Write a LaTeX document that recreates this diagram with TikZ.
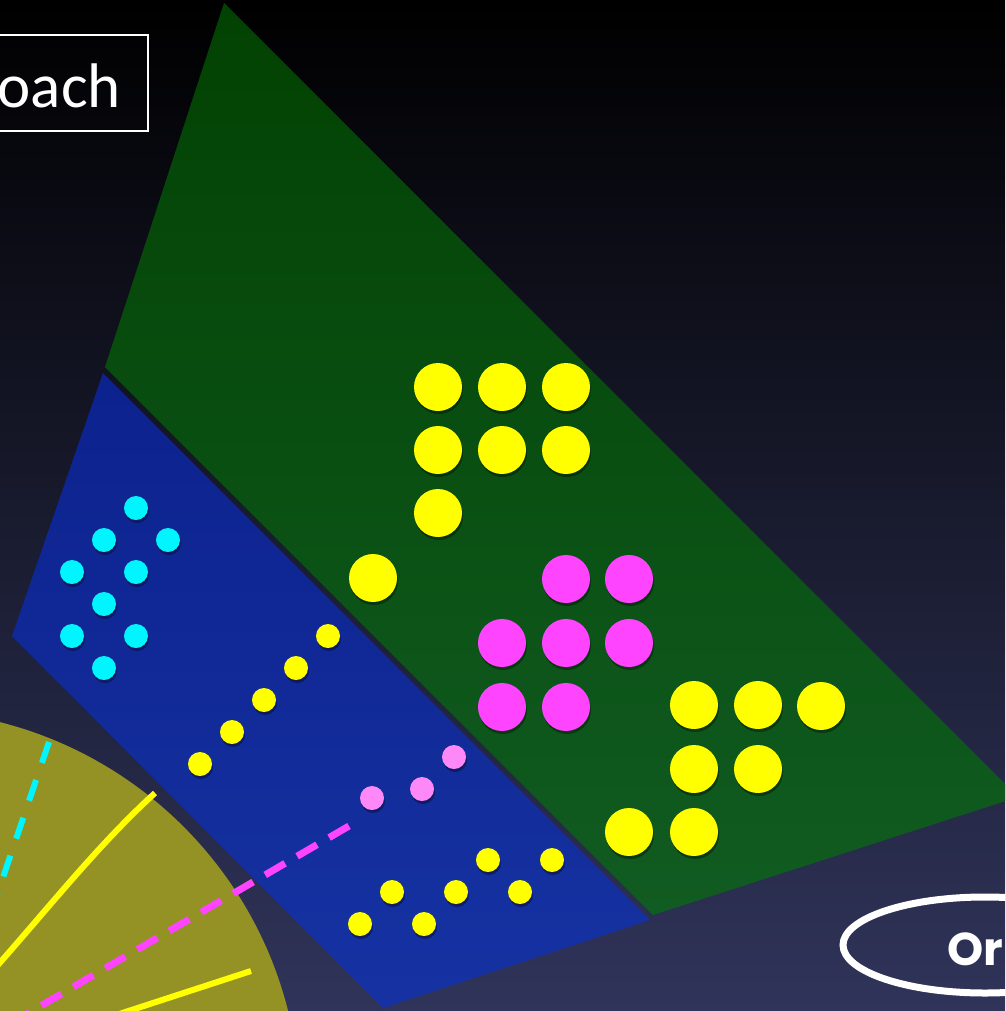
\documentclass[tikz,border=0pt]{standalone}
\usepackage{fontspec}
\newfontfamily\boxfont{Carlito}
\newfontfamily\tagfont{Poppins}
\usetikzlibrary{shadows}

\definecolor{bgtop}{RGB}{0,0,0}
\definecolor{bgbot}{RGB}{48,52,90}
\definecolor{grtop}{RGB}{2,66,2}
\definecolor{grbot}{RGB}{17,92,34}
\definecolor{bltop}{RGB}{12,34,142}
\definecolor{blbot}{RGB}{22,50,162}
\definecolor{fanolive}{RGB}{148,146,36}
\definecolor{dotyellow}{RGB}{255,255,0}
\definecolor{dotmagenta}{RGB}{255,68,255}
\definecolor{dotpink}{RGB}{255,136,248}
\definecolor{dotcyan}{RGB}{0,245,255}

\tikzset{
  dot/.style={fill=#1, drop shadow={shadow xshift=1pt, shadow yshift=-3pt, opacity=0.35, fill=black}},
  ray/.style={line width=6pt, #1},
}

\begin{document}
\begin{tikzpicture}[x=1pt,y=-1pt]

% page: 1005 x 1011, y grows downwards
\clip (0,0) rectangle (1005,1011);
\shade[top color=bgtop, bottom color=bgbot] (0,0) rectangle (1005,1011);

% title box, cut at the left edge
\draw[white, line width=2pt] (-10,35) rectangle (148,131);
\node[text=white, font=\boxfont\fontsize{63}{70}\selectfont, anchor=base east, inner sep=0pt] (approach) at (121,108) {oach};

% green wedge (upper) and blue wedge (lower), dark gap between them
\shade[top color=grtop, bottom color=grbot] (224,3) -- (1018,797) -- (653,915) -- (105,367) -- cycle;
\shade[top color=bltop, bottom color=blbot] (103,373) -- (650,920) -- (383,1008) -- (12,636) -- cycle;

% olive fan, centre below the page
\coordinate (F) at (-98,1108);
\fill[fanolive] (F) circle (398pt);

% rays on the fan
\draw[ray=dotcyan, dash pattern=on 22pt off 18pt] (49,742) -- (-5,901);
\draw[ray=dotyellow] (155,793) .. controls (100,843) and (50,906) .. (-3,966);
\draw[ray=dotyellow] (251,971) -- (110,1017);
\draw[ray=dotmagenta, line width=7pt, dash pattern=on 23pt off 14pt] (349,826) -- (20,1018);

% ---- big dots in the green wedge ----
% yellow, upper block
\foreach \x/\y in {438/387, 502/387, 566/387, 438/450, 502/450, 566/450, 438/513, 373/578}
  \fill[dot=dotyellow] (\x,\y) circle (24pt);
% magenta block
\foreach \x/\y in {566/579, 629/579, 502/643, 566/643, 629/643, 502/707, 566/707}
  \fill[dot=dotmagenta] (\x,\y) circle (24pt);
% yellow, lower block
\foreach \x/\y in {694/705, 758/705, 821/706, 694/769, 758/769, 629/832, 694/832}
  \fill[dot=dotyellow] (\x,\y) circle (24pt);

% ---- small dots in the blue wedge ----
\foreach \x/\y in {136/508, 104/540, 168/540, 72/572, 136/572, 104/604, 72/636, 136/636, 104/668}
  \fill[dot=dotcyan] (\x,\y) circle (12pt);
\foreach \x/\y in {200/764, 232/732, 264/700, 296/668, 328/636}
  \fill[dot=dotyellow] (\x,\y) circle (12pt);
\foreach \x/\y in {372/798, 422/789, 454/757}
  \fill[dot=dotpink] (\x,\y) circle (12pt);
\foreach \x/\y in {360/924, 392/892, 424/924, 456/892, 488/860, 520/892, 552/860}
  \fill[dot=dotyellow] (\x,\y) circle (12pt);

% label ellipse, cut at the right edge
\draw[white, line width=7pt] (985,945) ellipse [x radius=142pt, y radius=48pt];
\node[text=white, font=\tagfont\bfseries\fontsize{46}{50}\selectfont, anchor=base west, inner sep=0pt] (ordinal) at (947,965) {Or};

\end{tikzpicture}
\end{document}
